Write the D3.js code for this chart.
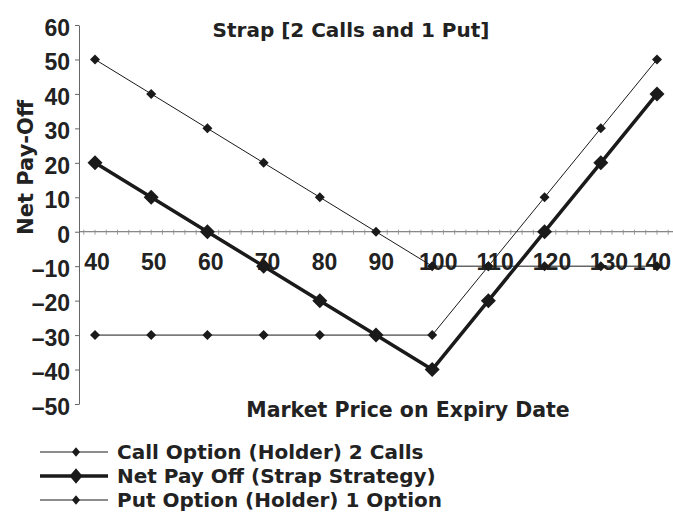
<!DOCTYPE html>
<html>
<head>
<meta charset="utf-8">
<script src="https://cdn.jsdelivr.net/npm/d3@7/dist/d3.min.js"></script>
<style>
  html, body { margin: 0; padding: 0; background: #fff; }
  svg { display: block; }
  .num { font-family: "Liberation Sans", Arial, sans-serif; font-weight: bold; font-size: 23px; fill: #222; }
  .lbl { font-family: "DejaVu Sans", sans-serif; font-weight: bold; fill: #222; }
</style>
</head>
<body>
<svg id="chart" width="673" height="523"></svg>
<script>
// Market price on expiry date
const prices = [40, 50, 60, 70, 80, 90, 100, 110, 120, 130, 140];
// Pay-offs for the strap components and the combined position
const callPayoff = [-30, -30, -30, -30, -30, -30, -30, -10, 10, 30, 50];
const netPayoff  = [20, 10, 0, -10, -20, -30, -40, -20, 0, 20, 40];
const putPayoff  = [50, 40, 30, 20, 10, 0, -10, -10, -10, -10, -10];
const yTicks = [60, 50, 40, 30, 20, 10, 0, -10, -20, -30, -40, -50];
const seriesNames = ["Call Option (Holder) 2 Calls", "Net Pay Off (Strap Strategy)", "Put Option (Holder) 1 Option"];

const series = [
  { name: seriesNames[0], values: callPayoff, width: 1, marker: 5, key: 4 },
  { name: seriesNames[1], values: netPayoff, width: 3.5, marker: 7.5, key: 6.5 },
  { name: seriesNames[2], values: putPayoff, width: 1, marker: 5, key: 4 }
];

const W = 673;
const svg = d3.select("#chart");
const x = d3.scaleLinear().domain([37.15, 142.85]).range([79, W]);
const y = d3.scaleLinear().domain([-50, 60]).range([404, 25]);
// category labels sit on a slightly wider spacing than the points
const xLabel = d3.scaleLinear().domain([40, 120]).range([97, 552]);
const ink = "#1a1a1a";

// Title
svg.append("text").attr("class", "lbl")
  .attr("x", 351).attr("y", 37).attr("text-anchor", "middle")
  .attr("font-size", 20).text("Strap [2 Calls and 1 Put]");

// Y axis
const yAxis = d3.axisLeft(y).tickValues(yTicks).tickSize(4).tickSizeOuter(0)
  .tickFormat(d => d < 0 ? "\u2013" + Math.abs(d) : d);
const gy = svg.append("g").attr("transform", `translate(${x.range()[0]},0)`).call(yAxis);
gy.select(".domain").attr("stroke", "#666");
gy.selectAll(".tick line").attr("stroke", "#666");
gy.selectAll(".tick text").attr("class", "num").attr("x", -9).attr("dy", "0.45em");

// Y axis title
svg.append("text").attr("class", "lbl")
  .attr("transform", "translate(33,167.5) rotate(-90)")
  .attr("text-anchor", "middle").attr("font-size", 21).text("Net Pay-Off");

// X axis along zero, with minor ticks and labels hanging below
const minor = d3.range(38, 143, 2);
const gx = svg.append("g").attr("transform", `translate(0,${y(0)})`);
gx.append("line").attr("x1", x.range()[0]).attr("x2", x.range()[1])
  .attr("stroke", "#666").attr("stroke-width", 1);
gx.selectAll("line.minor").data(minor).join("line").attr("class", "minor")
  .attr("x1", d => x(d)).attr("x2", d => x(d)).attr("y1", -2).attr("y2", 3)
  .attr("stroke", "#888").attr("stroke-width", 0.8);
const xt = gx.selectAll("text").data(prices).join("text").attr("class", "num")
  .attr("font-size", 23)
  .attr("x", d => xLabel(d)).attr("y", 38).attr("text-anchor", "middle").text(d => d);
// keep the last labels inside the right edge
xt.each(function () {
  const b = this.getBBox();
  if (b.x + b.width > W - 2) d3.select(this).attr("x", +d3.select(this).attr("x") - (b.x + b.width - (W - 2)));
});

// X axis title
svg.append("text").attr("class", "lbl")
  .attr("x", 408).attr("y", 417).attr("text-anchor", "middle")
  .attr("font-size", 20.5).text("Market Price on Expiry Date");

// Series lines and diamond markers
const line = d3.line().x((d, i) => x(prices[i])).y(d => y(d));
const diamond = (w, h) => `M0,${-h}L${w},0L0,${h}L${-w},0Z`;
series.forEach(s => {
  svg.append("path").datum(s.values).attr("d", line)
    .attr("fill", "none").attr("stroke", ink).attr("stroke-width", s.width)
    .attr("stroke-linejoin", "round");
  svg.append("g").selectAll("path").data(s.values).join("path")
    .attr("transform", (d, i) => `translate(${x(prices[i])},${y(d)})`)
    .attr("d", diamond(s.marker, s.marker)).attr("fill", ink);
});

// Legend
const lg = svg.append("g").selectAll("g").data(series).join("g")
  .attr("transform", (d, i) => `translate(0,${452 + i * 24})`);
lg.append("line").attr("x1", 40).attr("x2", 108).attr("y1", 0).attr("y2", 0)
  .attr("stroke", ink).attr("stroke-width", d => d.width);
lg.append("path").attr("transform", "translate(76,0)")
  .attr("d", d => diamond(d.key, d.key * 1.2)).attr("fill", ink);
lg.append("text").attr("class", "lbl").attr("x", 117).attr("y", 0).attr("dy", "0.36em")
  .attr("font-size", 20).text(d => d.name);
</script>
</body>
</html>
